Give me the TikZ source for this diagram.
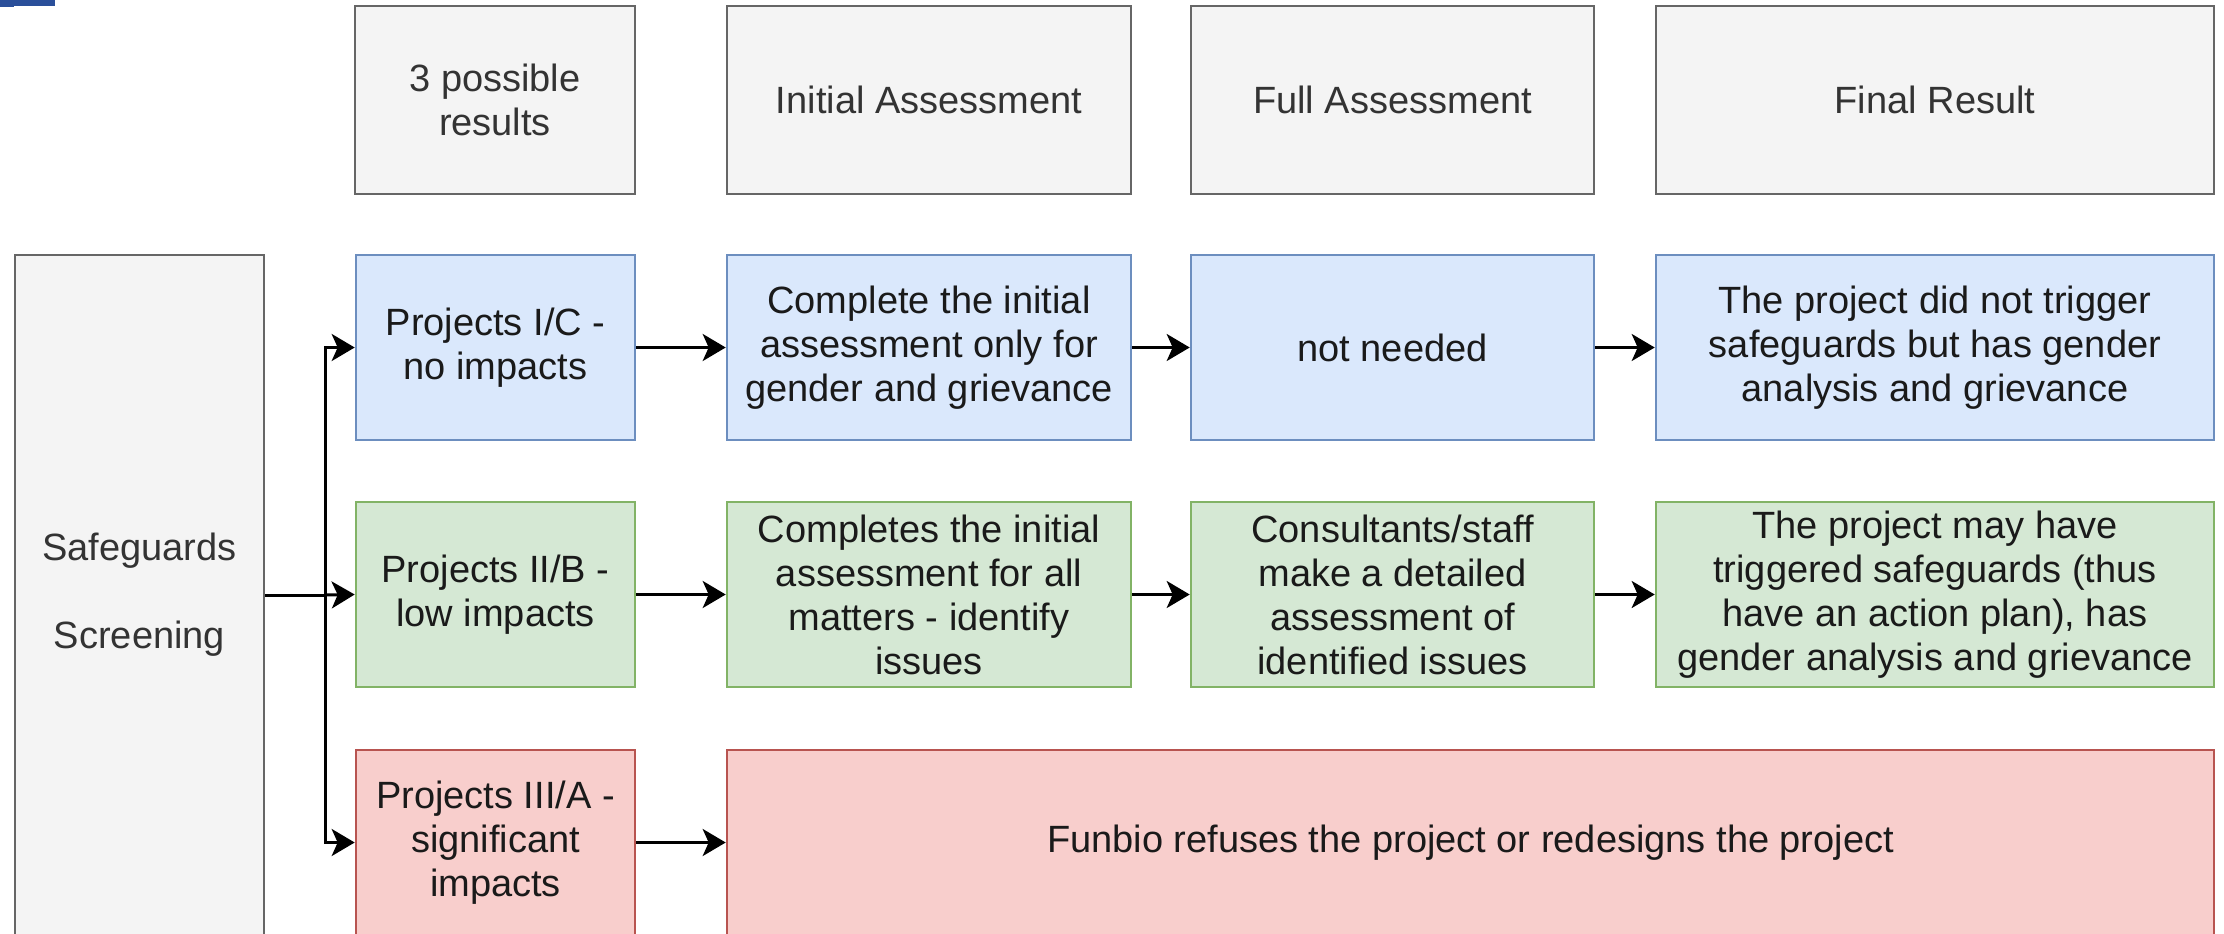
\documentclass[tikz,border=0pt]{standalone}
\usepackage{fontspec}
\setmainfont{Liberation Sans}
\usetikzlibrary{arrows.meta}
\definecolor{grayF}{HTML}{F4F4F4}
\definecolor{grayS}{HTML}{666666}
\definecolor{grayT}{HTML}{333333}
\definecolor{blueF}{HTML}{DAE8FC}
\definecolor{blueS}{HTML}{6C8EBF}
\definecolor{greenF}{HTML}{D5E8D4}
\definecolor{greenS}{HTML}{82B366}
\definecolor{redF}{HTML}{F8CECC}
\definecolor{redS}{HTML}{B85450}
\definecolor{topblue}{HTML}{2A4F9A}
\definecolor{txt}{HTML}{1A1A1A}
\tikzset{
  box/.style={draw, line width=2.6pt, align=center, inner sep=0pt, anchor=center,
    font=\fontsize{38}{44}\selectfont, text=txt},
  graybox/.style={box, fill=grayF, draw=grayS, text=grayT},
  bluebox/.style={box, fill=blueF, draw=blueS},
  greenbox/.style={box, fill=greenF, draw=greenS},
  redbox/.style={box, fill=redF, draw=redS},
  conn/.style={line width=3pt, draw=black},
  arr/.style={conn, -{Stealth[length=23pt,width=27pt,inset=6pt]}},
}
\begin{document}
\begin{tikzpicture}[x=1pt,y=-1pt]
\clip (0,0) rectangle (2224,934);
\fill[white] (0,0) rectangle (2224,934);
\fill[topblue] (0,0) rectangle (55,6);
\fill[topblue] (0,6) rectangle (14,7);
% headers
\node[graybox, minimum width=280pt, minimum height=188pt] (h1) at (495,100) {3 possible\\results};
\node[graybox, minimum width=404pt, minimum height=188pt] (h2) at (929,100) {Initial Assessment};
\node[graybox, minimum width=403pt, minimum height=188pt] (h3) at (1392.5,100) {Full Assessment};
\node[graybox, minimum width=558pt, minimum height=188pt] (h4) at (1935,100) {Final Result};
% screening
\node[graybox, minimum width=249pt, minimum height=680pt] (sg) at (139.5,595) {Safeguards\\[44pt]Screening};
% row 1
\node[bluebox, minimum width=279pt, minimum height=185pt] (p1) at (495.5,347.5) {Projects I/C -\\no impacts};
\node[bluebox, minimum width=404pt, minimum height=185pt] (i1) at (929,347.5) {Complete the initial\\assessment only for\\gender and grievance};
\node[bluebox, minimum width=403pt, minimum height=185pt] (f1) at (1392.5,347.5) {not needed};
\node[bluebox, minimum width=558pt, minimum height=185pt] (r1) at (1935,347.5) {The project did not trigger\\safeguards but has gender\\analysis and grievance};
% row 2
\node[greenbox, minimum width=279pt, minimum height=185pt] (p2) at (495.5,594.5) {Projects II/B -\\low impacts};
\node[greenbox, minimum width=404pt, minimum height=185pt] (i2) at (929,594.5) {Completes the initial\\assessment for all\\matters - identify\\issues};
\node[greenbox, minimum width=403pt, minimum height=185pt] (f2) at (1392.5,594.5) {Consultants/staff\\make a detailed\\assessment of\\identified issues};
\node[greenbox, minimum width=558pt, minimum height=185pt] (r2) at (1935,594.5) {The project may have\\triggered safeguards (thus\\have an action plan), has\\gender analysis and grievance};
% row 3
\node[redbox, minimum width=279pt, minimum height=185pt] (p3) at (495.5,842.5) {Projects III/A -\\significant\\impacts};
\node[redbox, minimum width=1487pt, minimum height=185pt] (x3) at (1470.5,842.5) {Funbio refuses the project or redesigns the project};
% connectors
\coordinate (br) at (325,595);
\draw[conn] (sg.east) -- (br);
\draw[arr] (br) |- (p1.west);
\draw[arr] (br) -- (p2.west);
\draw[arr] (br) |- (p3.west);
\draw[arr] (p1) -- (i1);
\draw[arr] (i1) -- (f1);
\draw[arr] (f1) -- (r1);
\draw[arr] (p2) -- (i2);
\draw[arr] (i2) -- (f2);
\draw[arr] (f2) -- (r2);
\draw[arr] (p3) -- (x3);
\end{tikzpicture}
\end{document}
